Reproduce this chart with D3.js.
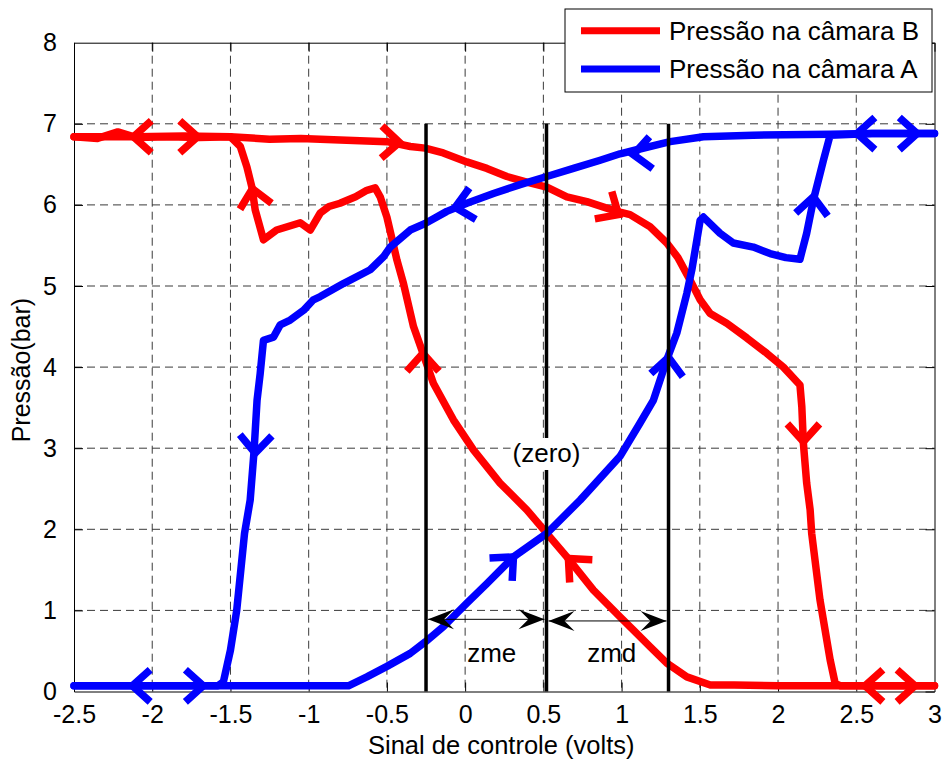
<!DOCTYPE html>
<html><head><meta charset="utf-8">
<script src="https://cdn.jsdelivr.net/npm/d3@7"></script>
<style>
body{margin:0;background:#fff}
svg{display:block}
text{font-family:"Liberation Sans",Arial,sans-serif;fill:#000}
</style>
</head><body>
<svg id="chart" width="944" height="762"></svg>
<script>
// ---------------- DATA ----------------
const xTicks = [-2.5,-2,-1.5,-1,-0.5,0,0.5,1,1.5,2,2.5,3];
const xTickLabels = ["-2.5","-2","-1.5","-1","-0.5","0","0.5","1","1.5","2","2.5","3"];
const yTicks = [0,1,2,3,4,5,6,7,8];
const yTickLabels = ["0","1","2","3","4","5","6","7","8"];
const seriesNames = ["Pressão na câmara B","Pressão na câmara A"];
const xLabel = "Sinal de controle (volts)";
const yLabel = "Pressão(bar)";

// Pressão na câmara B (red) – outgoing and return branches [x, y]
const pressaoB_ida = [[-2.5,6.84],[-2.35,6.82],[-2.22,6.9],[-2.1,6.83],[-1.9,6.84],[-1.7,6.83],[-1.5,6.84],[-1.25,6.81],[-1.05,6.82],[-0.8,6.8],[-0.5,6.78],[-0.35,6.72],[-0.256,6.70],[-0.14,6.64],[0.011,6.53],[0.139,6.45],[0.267,6.35],[0.394,6.28],[0.522,6.22],[0.65,6.10],[0.778,6.04],[0.905,5.96],[0.99,5.91],[1.054,5.88],[1.182,5.73],[1.289,5.53],[1.36,5.35],[1.449,5.03],[1.502,4.83],[1.566,4.66],[1.672,4.54],[1.8,4.36],[1.928,4.17],[2.034,4.0],[2.14,3.78],[2.152,3.51],[2.162,3.06],[2.183,2.57],[2.205,2.24],[2.215,1.95],[2.268,1.13],[2.333,0.39],[2.365,0.1],[2.4,0.07],[2.7,0.07],[3,0.07]];
const pressaoB_volta = [[3,0.07],[2.5,0.07],[2.0,0.07],[1.72,0.08],[1.567,0.08],[1.417,0.18],[1.289,0.35],[1.183,0.55],[1.074,0.76],[0.99,0.92],[0.82,1.25],[0.65,1.66],[0.522,1.95],[0.394,2.24],[0.223,2.57],[0.053,2.98],[-0.075,3.35],[-0.203,3.8],[-0.277,4.21],[-0.33,4.5],[-0.394,5.03],[-0.436,5.32],[-0.5,5.85],[-0.543,6.1],[-0.575,6.21],[-0.628,6.18],[-0.7,6.1],[-0.8,6.02],[-0.87,5.98],[-0.926,5.9],[-0.99,5.69],[-1.054,5.78],[-1.205,5.69],[-1.289,5.57],[-1.342,5.94],[-1.363,6.22],[-1.395,6.47],[-1.437,6.72],[-1.5,6.84],[-1.8,6.85],[-2.1,6.84],[-2.5,6.84]];

// Pressão na câmara A (blue)
const pressaoA_ida = [[-2.5,0.07],[-2.2,0.07],[-1.9,0.07],[-1.6,0.07],[-1.2,0.07],[-0.746,0.07],[-0.628,0.18],[-0.5,0.31],[-0.351,0.47],[-0.256,0.61],[-0.139,0.8],[0.011,1.09],[0.139,1.33],[0.309,1.66],[0.522,1.95],[0.735,2.36],[0.99,2.9],[1.118,3.31],[1.203,3.59],[1.289,4.09],[1.353,4.42],[1.417,4.91],[1.449,5.2],[1.47,5.44],[1.502,5.81],[1.523,5.85],[1.629,5.65],[1.714,5.53],[1.842,5.48],[1.949,5.40],[2.05,5.35],[2.14,5.33],[2.183,5.65],[2.226,6.06],[2.29,6.55],[2.333,6.86],[2.6,6.88],[3,6.88]];
const pressaoA_volta = [[3,6.88],[2.6,6.88],[2.333,6.87],[1.84,6.86],[1.523,6.84],[1.31,6.78],[1.097,6.68],[0.99,6.63],[0.863,6.55],[0.692,6.45],[0.522,6.35],[0.351,6.25],[0.181,6.14],[0.011,6.02],[-0.117,5.92],[-0.256,5.77],[-0.351,5.69],[-0.479,5.48],[-0.522,5.36],[-0.607,5.2],[-0.778,5.03],[-0.926,4.87],[-0.97,4.83],[-1.033,4.70],[-1.118,4.58],[-1.182,4.52],[-1.225,4.37],[-1.289,4.33],[-1.31,3.92],[-1.33,3.59],[-1.35,2.94],[-1.374,2.36],[-1.41,1.95],[-1.46,1.0],[-1.5,0.51],[-1.545,0.12],[-1.58,0.07],[-2.0,0.07],[-2.5,0.07]];

// direction chevrons: apex [x, y] and direction [dx, dy] in data units
const setasB = [[-2.12,6.84,-1,0],[-1.71,6.84,1,0],[-1.36,6.2,-0.05,0.5],[-0.42,6.77,1,-0.05],[0.98,5.88,1,-1.2],[-0.27,4.17,0,1],[2.162,3.08,0,-1],[0.66,1.64,-0.52,1],[2.556,0.07,-1,0],[2.875,0.07,1,0]];
const setasA = [[-2.127,0.07,-1,0],[-1.674,0.07,1,0],[-1.342,2.94,-0.02,-1],[-0.064,5.97,-1,-0.4],[1.075,6.62,-1,-0.2],[0.309,1.66,0.52,1],[1.30,4.12,0.05,1],[2.226,6.1,0.05,1],[2.505,6.88,-1,0],[2.889,6.88,1,0]];

// vertical reference lines (x positions) and their top
const linhasX = [-0.25, 0.52, 1.3];
const linhaTopo = 7;
// annotations
const zonaY = [0.89, 0.87];          // y of zme / zmd dimension arrows
const rotulosZona = ["zme","zmd"];
const rotulosZonaX = [0.17, 0.937];
const rotuloZero = "(zero)";
const rotuloZeroY = 2.83;
const rotuloZonaY = 0.36;

// ---------------- LAYOUT ----------------
const svg = d3.select("#chart");
const L = 74, R = 934.5, T = 42.7, B = 691.5;
const x = d3.scaleLinear().domain([-2.5,3]).range([L,R]);
const y = d3.scaleLinear().domain([0,8]).range([B,T]);
const red = "#ff0000", blue = "#0000ff";
const LW = 7.5;
const FF = "Liberation Sans, Arial, sans-serif";

// grid
const g = svg.append("g");
g.selectAll(".gx").data(xTicks.slice(1,-1)).enter().append("line")
 .attr("x1",d=>x(d)).attr("x2",d=>x(d)).attr("y1",T).attr("y2",B)
 .attr("stroke","#3a3a3a").attr("stroke-width",1).attr("stroke-dasharray","8,5");
g.selectAll(".gy").data(yTicks.slice(1,-1)).enter().append("line")
 .attr("y1",d=>y(d)).attr("y2",d=>y(d)).attr("x1",L).attr("x2",R)
 .attr("stroke","#3a3a3a").attr("stroke-width",1).attr("stroke-dasharray","8,5");

// axes via d3 axis (inner ticks)
const axB = d3.axisBottom(x).tickValues(xTicks).tickFormat((d,i)=>xTickLabels[i]).tickSizeInner(-9).tickSizeOuter(0).tickPadding(14);
const axL = d3.axisLeft(y).tickValues(yTicks).tickFormat((d,i)=>yTickLabels[i]).tickSizeInner(-9).tickSizeOuter(0).tickPadding(17);
const axT = d3.axisTop(x).tickValues(xTicks).tickFormat("").tickSizeInner(-9).tickSizeOuter(0);
const axR = d3.axisRight(y).tickValues(yTicks).tickFormat("").tickSizeInner(-9).tickSizeOuter(0);
function styleAxis(sel){ sel.select(".domain").attr("stroke","#000"); sel.selectAll(".tick line").attr("stroke","#000"); }
const gb = svg.append("g").attr("transform",`translate(0,${B})`).call(axB); styleAxis(gb);
gb.selectAll("text").attr("font-size",25).attr("font-family",FF).attr("fill","#000");
const gl = svg.append("g").attr("transform",`translate(${L},0)`).call(axL); styleAxis(gl);
gl.selectAll("text").attr("font-size",25).attr("font-family",FF).attr("fill","#000");
const gt = svg.append("g").attr("transform",`translate(0,${T})`).call(axT); styleAxis(gt);
const gr = svg.append("g").attr("transform",`translate(${R},0)`).call(axR); styleAxis(gr);
gb.selectAll(".tick").filter((d,i)=>i===0||i===xTicks.length-1).select("line").remove();
gl.selectAll(".tick").filter((d,i)=>i===0||i===yTicks.length-1).select("line").remove();

// curves
const line = d3.line().x(d=>x(d[0])).y(d=>y(d[1]));
const curves = [[pressaoB_ida,red],[pressaoB_volta,red],[pressaoA_ida,blue],[pressaoA_volta,blue]];
curves.forEach(([data,col])=>{
  svg.append("path").datum(data).attr("d",line).attr("fill","none")
   .attr("stroke",col).attr("stroke-width",LW).attr("stroke-linejoin","round").attr("stroke-linecap","round");
});

// chevrons
function chevron(s,col){
  const px = x(s[0]), py = y(s[1]);
  let vx = x(s[0]+s[2]) - px, vy = y(s[1]+s[3]) - py;
  const n = Math.hypot(vx,vy); vx/=n; vy/=n;
  const a = 42*Math.PI/180, len = 24;
  const arm = sgn => {
    const c=Math.cos(sgn*a), si=Math.sin(sgn*a);
    const rx = -vx*c + vy*si, ry = -vx*si - vy*c;
    return [px+rx*len, py+ry*len];
  };
  const p1 = arm(1), p2 = arm(-1);
  svg.append("path").attr("d",`M${p1[0]},${p1[1]}L${px},${py}L${p2[0]},${p2[1]}`)
   .attr("fill","none").attr("stroke",col).attr("stroke-width",LW).attr("stroke-linejoin","miter");
}
setasB.forEach(s=>chevron(s,red));
setasA.forEach(s=>chevron(s,blue));

// black vertical lines
svg.selectAll(".vl").data(linhasX).enter().append("line")
 .attr("x1",d=>x(d)).attr("x2",d=>x(d)).attr("y1",y(linhaTopo)).attr("y2",B)
 .attr("stroke","#000").attr("stroke-width",3.5);

// (zero) label with white background
const zx = x(linhasX[1]), zy = y(rotuloZeroY);
const zr = svg.append("rect").attr("fill","#fff");
const zt = svg.append("text").attr("x",zx).attr("y",zy).attr("text-anchor","middle").attr("font-size",26).text(rotuloZero);
const bb = zt.node().getBBox();
zr.attr("x",bb.x-2).attr("y",bb.y).attr("width",bb.width+4).attr("height",bb.height+2);

// dimension arrows
function headPts(ax, ay, dir){ // dir = -1 left, +1 right, apex at ax
  const Lh=26, W=10, N=16;
  return [[ax,ay],[ax-dir*Lh,ay-W],[ax-dir*N,ay],[ax-dir*Lh,ay+W]];
}
const spans = [[linhasX[0],linhasX[1],zonaY[0]],[linhasX[1],linhasX[2],zonaY[1]]];
spans.forEach(([a,b,yy],i)=>{
  const x1=x(a)+2, x2=x(b)-2, yp=y(yy);
  svg.append("line").attr("x1",x1).attr("x2",x2).attr("y1",yp).attr("y2",yp).attr("stroke","#000").attr("stroke-width",1);
  [[x1,-1],[x2,1]].forEach(([ax,dir])=>{
    svg.append("polygon").attr("points",headPts(ax,yp,dir).map(p=>p.join(",")).join(" ")).attr("fill","#000");
  });
  svg.append("text").attr("x",x(rotulosZonaX[i])).attr("y",y(rotuloZonaY)).attr("text-anchor","middle").attr("font-size",26).text(rotulosZona[i]);
});

// axis labels
svg.append("text").attr("x",(L+R)/2-3).attr("y",754).attr("text-anchor","middle").attr("font-size",25.5).text(xLabel);
svg.append("text").attr("transform",`translate(30,${(T+B)/2+3}) rotate(-90)`).attr("text-anchor","middle").attr("font-size",25).text(yLabel);

// legend
const lg = svg.append("g");
lg.append("rect").attr("x",565).attr("y",9).attr("width",367).attr("height",83).attr("fill","#fff").attr("stroke","#000").attr("stroke-width",1);
[[red,30.7,40],[blue,69,78]].forEach(([c,ly,ty],i)=>{
  lg.append("line").attr("x1",581).attr("x2",660).attr("y1",ly).attr("y2",ly).attr("stroke",c).attr("stroke-width",7);
  lg.append("text").attr("x",669).attr("y",ty).attr("font-size",26).text(seriesNames[i]);
});
</script>
</body></html>
